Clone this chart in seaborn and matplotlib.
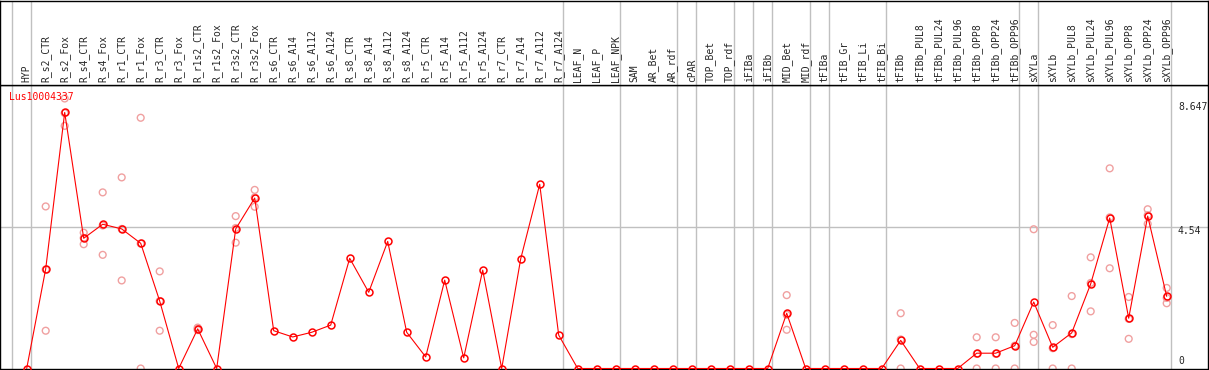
import numpy as np
import pandas as pd
import seaborn as sns
import matplotlib.pyplot as plt
import matplotlib.transforms as mtransforms

gene = "Lus10004337"

labels = [
    "HYP", "R_s2_CTR", "R_s2_Fox", "R_s4_CTR", "R_s4_Fox", "R_r1_CTR", "R_r1_Fox",
    "R_r3_CTR", "R_r3_Fox", "R_r1s2_CTR", "R_r1s2_Fox", "R_r3s2_CTR", "R_r3s2_Fox",
    "R_s6_CTR", "R_s6_A14", "R_s6_A112", "R_s6_A124", "R_s8_CTR", "R_s8_A14",
    "R_s8_A112", "R_s8_A124", "R_r5_CTR", "R_r5_A14", "R_r5_A112", "R_r5_A124",
    "R_r7_CTR", "R_r7_A14", "R_r7_A112", "R_r7_A124", "LEAF_N", "LEAF_P", "LEAF_NPK",
    "SAM", "AR_Bet", "AR_rdf", "cPAR", "TOP_Bet", "TOP_rdf", "iFIBa", "iFIBb",
    "MID_Bet", "MID_rdf", "tFIBa", "tFIB_Gr", "tFIB_Li", "tFIB_Bi", "tFIBb",
    "tFIBb_PUL8", "tFIBb_PUL24", "tFIBb_PUL96", "tFIBb_OPP8", "tFIBb_OPP24",
    "tFIBb_OPP96", "sXYLa", "sXYLb", "sXYLb_PUL8", "sXYLb_PUL24", "sXYLb_PUL96",
    "sXYLb_OPP8", "sXYLb_OPP24", "sXYLb_OPP96",
]

means = [
    0, 3.19, 8.20, 4.17, 4.62, 4.47, 4.01, 2.16, 0, 1.27, 0, 4.47, 5.46,
    1.21, 1.01, 1.16, 1.39, 3.53, 2.44, 4.07, 1.16, 0.37, 2.83, 0.34, 3.15,
    0, 3.51, 5.90, 1.07, 0, 0, 0, 0, 0, 0, 0, 0, 0, 0, 0,
    1.77, 0, 0, 0, 0, 0, 0.90, 0, 0, 0, 0.49, 0.49, 0.73,
    2.13, 0.68, 1.14, 2.71, 4.82, 1.61, 4.88, 2.31,
]

# replicate values, only for samples where they spread out
rep_labels = [
    "R_s2_CTR", "R_s2_Fox", "R_s4_CTR", "R_s4_Fox", "R_r1_CTR", "R_r1_Fox",
    "R_r3_CTR", "R_r1s2_CTR", "R_r3s2_CTR", "R_r3s2_Fox", "MID_Bet", "tFIBb",
    "tFIBb_OPP8", "tFIBb_OPP24", "tFIBb_OPP96", "sXYLa", "sXYLb", "sXYLb_PUL8",
    "sXYLb_PUL24", "sXYLb_PUL96", "sXYLb_OPP8", "sXYLb_OPP24", "sXYLb_OPP96",
]
rep_values = [
    [5.19, 3.17, 1.21], [8.647, 7.77, 8.18], [4.35, 3.98, 4.18], [5.64, 3.64, 4.58],
    [6.12, 2.82, 4.47], [8.03, 0, 4.00], [3.11, 1.21, 2.16], [1.31, 1.27, 1.23],
    [4.88, 4.03, 4.50], [5.72, 5.18, 5.48], [2.35, 1.24, 1.72], [1.77, 0, 0.93],
    [1.00, 0, 0.47], [1.00, 0, 0.47], [1.46, 0, 0.73], [4.46, 1.08, 0.85],
    [1.39, 0, 0.65], [2.32, 0, 1.10], [3.56, 1.83, 2.74], [6.41, 3.21, 4.84],
    [2.29, 0.95, 1.59], [5.10, 4.63, 4.91], [2.58, 2.09, 2.26],
]

# last sample of each tissue group (a line is drawn after it)
group_ends = ["HYP", "R_r7_A124", "LEAF_NPK", "AR_rdf", "cPAR", "TOP_rdf", "iFIBa",
              "iFIBb", "MID_rdf", "tFIBa", "tFIB_Bi", "tFIBb_OPP96", "sXYLa",
              "sXYLb_OPP96"]

sns.set_style("white")
plt.rcParams["font.family"] = ["DejaVu Sans Mono", "DejaVu Sans"]

pos = {lab: i for i, lab in enumerate(labels)}
rep_df = pd.DataFrame(
    [(pos[lab], v) for lab, vals in zip(rep_labels, rep_values) for v in vals],
    columns=["pos", "value"],
)
mean_df = pd.DataFrame({"pos": np.arange(len(labels)), "value": means})

W, H = 1209, 370
fig = plt.figure(figsize=(W / 100, H / 100), dpi=100)
ax_w = 1208 / W
ax = fig.add_axes([0, 1.5 / H, ax_w, 283.5 / H])
hax = fig.add_axes([0, 285 / H, ax_w, 84.5 / H], sharex=ax)

step = 19.0
x0 = -26.7 / step
x1 = x0 + 1208 / step
ax.set_xlim(x0, x1)

ymax = max(max(v) for v in rep_values)
ytop = ymax * 1.05
ax.set_ylim(0, ytop)

grey = "#c0c0c0"
for a in (ax, hax):
    a.axvline(-1 + 4 / step, color=grey, lw=1.0, zorder=0)
    for g in group_ends:
        a.axvline(pos[g] + 4 / step, color=grey, lw=1.0, zorder=0)
ax.axhline(ytop / 2, color=grey, lw=1.0, zorder=0)

sns.scatterplot(data=rep_df, x="pos", y="value", ax=ax, marker="o", s=24,
                facecolors="none", edgecolor="#f0a0a0", linewidth=1.0, zorder=2,
                legend=False)
sns.lineplot(data=mean_df, x="pos", y="value", ax=ax, color="red", lw=0.8,
             marker="o", markersize=5, markerfacecolor="none",
             markeredgecolor="red", markeredgewidth=1.1, zorder=3)

ax.text(9 / 1208, 0.958, gene, transform=ax.transAxes, color="red",
        fontsize=7, ha="left", va="center")

for val, txt, dy in [(ymax, f"{ymax:.3f}", -8), (ytop / 2, f"{ytop / 2:.2f}", -4), (0, "0", 7)]:
    ax.annotate(txt, xy=(1178 / 1208, val), xycoords=("axes fraction", "data"),
                xytext=(0, dy), textcoords="offset pixels",
                fontsize=7, ha="left", va="center", annotation_clip=False)

trans = mtransforms.blended_transform_factory(hax.transData, hax.transAxes)
for i, lab in enumerate(labels):
    hax.text(i, 0.03, lab, transform=trans, rotation=90, fontsize=7,
             ha="center", va="bottom")

for a in (ax, hax):
    a.set_xticks([])
    a.set_yticks([])
    a.set_xlabel("")
    a.set_ylabel("")
    for s in a.spines.values():
        s.set_visible(True)
        s.set_color("black")
        s.set_linewidth(1.0)

fig.savefig("out.png", dpi=100)
